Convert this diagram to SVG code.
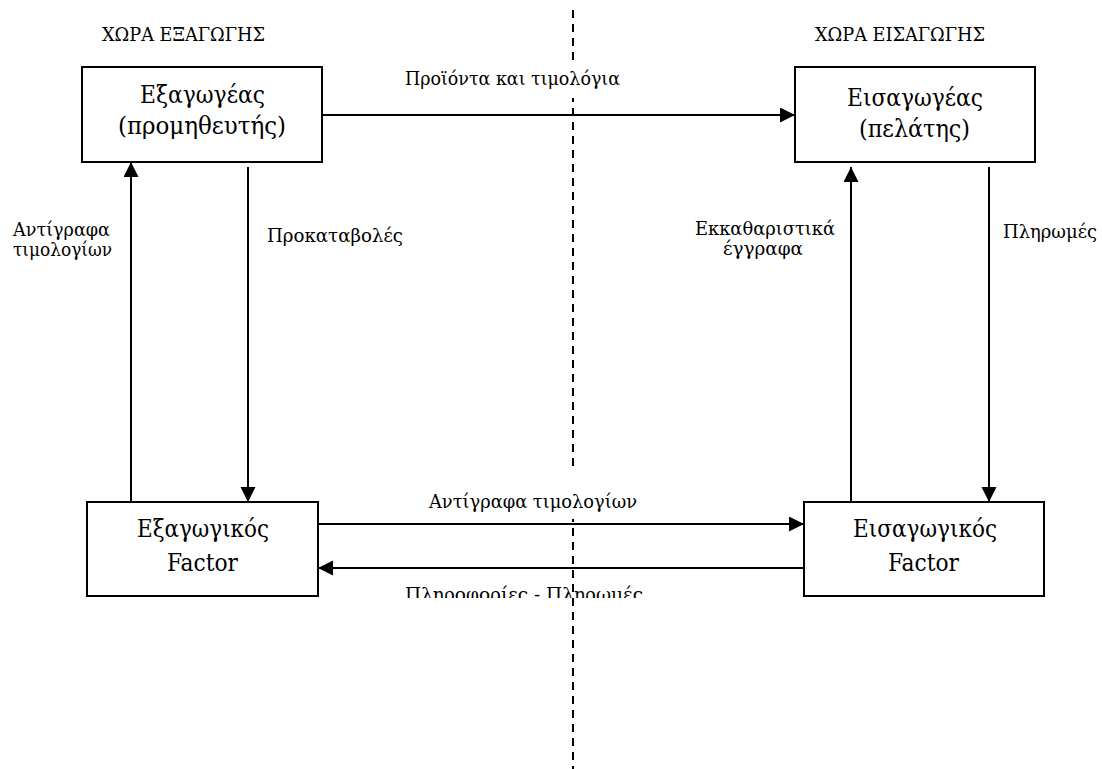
<svg xmlns="http://www.w3.org/2000/svg" width="1102" height="769" viewBox="0 0 1102 769">
  <style>
    text { font-family: "DejaVu Serif", "Liberation Serif", serif; fill: #000000; }
    .box { fill: #ffffff; stroke: #000000; stroke-width: 2; }
    .node-text { font-size: 24px; }
    .label { font-size: 19px; }
    .title { font-size: 18px; }
    .mask { fill: #ffffff; stroke: none; }
    .edge { fill: none; stroke: #000000; stroke-width: 2; marker-end: url(#arrow); }
    .divider { fill: none; stroke: #000000; stroke-width: 2; stroke-dasharray: 8 6; }
  </style>
  <defs>
    <marker id="arrow" markerUnits="userSpaceOnUse" markerWidth="16" markerHeight="16" refX="15" refY="7.5" orient="auto">
      <path d="M0,0 L15,7.5 L0,15 Z" fill="#000000"/>
    </marker>
    <clipPath id="clip-bottom-label">
      <rect x="380" y="570" width="300" height="28"/>
    </clipPath>
  </defs>

  <rect x="0" y="0" width="1102" height="769" fill="#ffffff"/>

  <!-- country headings -->
  <text class="title" x="102" y="41" textLength="163" lengthAdjust="spacingAndGlyphs">ΧΩΡΑ ΕΞΑΓΩΓΗΣ</text>
  <text class="title" x="815" y="41" textLength="170" lengthAdjust="spacingAndGlyphs">ΧΩΡΑ ΕΙΣΑΓΩΓΗΣ</text>

  <!-- label clipped by its text frame; the border is drawn over it -->
  <g clip-path="url(#clip-bottom-label)">
    <text class="label" x="405" y="601" textLength="238" lengthAdjust="spacingAndGlyphs">Πληροφορίες - Πληρωμές</text>
  </g>

  <!-- border between the two countries -->
  <line class="divider" x1="573" y1="10" x2="573" y2="769"/>

  <!-- connectors -->
  <g id="connectors">
    <line class="edge" x1="322" y1="115" x2="795" y2="115"/>
    <line class="edge" x1="131" y1="502" x2="131" y2="162"/>
    <line class="edge" x1="248" y1="167" x2="248" y2="502"/>
    <line class="edge" x1="851" y1="502" x2="851" y2="167"/>
    <line class="edge" x1="989" y1="167" x2="989" y2="502"/>
    <line class="edge" x1="318" y1="524" x2="804" y2="524"/>
    <line class="edge" x1="804" y1="568" x2="318" y2="568"/>
  </g>

  <!-- connector labels (text frames on white) -->
  <g id="labels">
    <rect class="mask" x="400" y="62" width="228" height="36"/>
    <text class="label" x="405" y="85" textLength="215" lengthAdjust="spacingAndGlyphs">Προϊόντα και τιμολόγια</text>

    <text class="label" x="13" y="236" textLength="97" lengthAdjust="spacingAndGlyphs">Αντίγραφα</text>
    <text class="label" x="13" y="256" textLength="99" lengthAdjust="spacingAndGlyphs">τιμολογίων</text>

    <text class="label" x="267" y="242" textLength="136" lengthAdjust="spacingAndGlyphs">Προκαταβολές</text>

    <text class="label" x="695" y="235" textLength="140" lengthAdjust="spacingAndGlyphs">Εκκαθαριστικά</text>
    <text class="label" x="723" y="255" textLength="80" lengthAdjust="spacingAndGlyphs">έγγραφα</text>

    <text class="label" x="1003" y="238" textLength="94" lengthAdjust="spacingAndGlyphs">Πληρωμές</text>

    <rect class="mask" x="425" y="468" width="216" height="51"/>
    <text class="label" x="429" y="508" textLength="208" lengthAdjust="spacingAndGlyphs">Αντίγραφα τιμολογίων</text>
  </g>

  <!-- nodes -->
  <g id="exporter">
    <rect class="box" x="82" y="67" width="240" height="95"/>
    <text class="node-text" x="140" y="103" textLength="125" lengthAdjust="spacingAndGlyphs">Εξαγωγέας</text>
    <text class="node-text" x="118" y="134" textLength="168" lengthAdjust="spacingAndGlyphs">(προμηθευτής)</text>
  </g>
  <g id="importer">
    <rect class="box" x="795" y="67" width="240" height="95"/>
    <text class="node-text" x="847" y="106" textLength="136" lengthAdjust="spacingAndGlyphs">Εισαγωγέας</text>
    <text class="node-text" x="859" y="137" textLength="111" lengthAdjust="spacingAndGlyphs">(πελάτης)</text>
  </g>
  <g id="export-factor">
    <rect class="box" x="87" y="502" width="231" height="94"/>
    <text class="node-text" x="137" y="537" textLength="132" lengthAdjust="spacingAndGlyphs">Εξαγωγικός</text>
    <text class="node-text" x="167" y="571" textLength="71" lengthAdjust="spacingAndGlyphs">Factor</text>
  </g>
  <g id="import-factor">
    <rect class="box" x="804" y="502" width="240" height="94"/>
    <text class="node-text" x="853" y="537" textLength="144" lengthAdjust="spacingAndGlyphs">Εισαγωγικός</text>
    <text class="node-text" x="888" y="571" textLength="71" lengthAdjust="spacingAndGlyphs">Factor</text>
  </g>
</svg>
